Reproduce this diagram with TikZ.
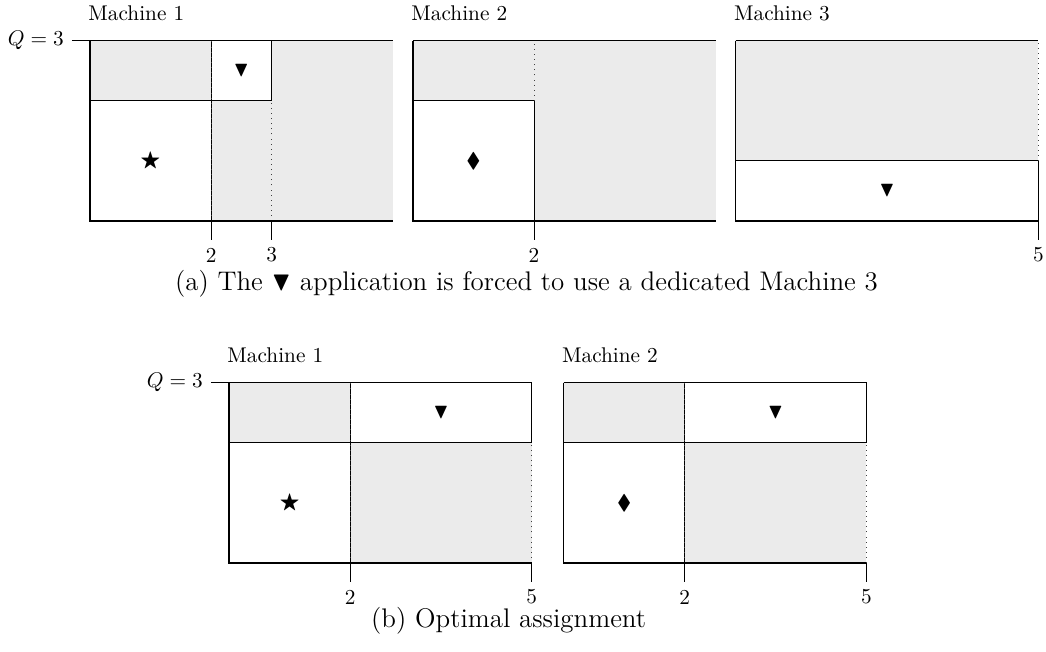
\documentclass[tikz,border=0pt]{standalone}
\usepackage{amssymb}
\begin{document}
\begin{tikzpicture}[x=1cm,y=0.993cm,
  panel/.style={line width=0.6pt},
  boxst/.style={draw=black, fill=white, line width=0.5pt},
  divider/.style={dotted, line width=0.4pt, black!75},
  tickln/.style={line width=0.5pt},
  ticklbl/.style={inner sep=0pt, font=\normalsize},
  qlbl/.style={anchor=east, inner sep=3.6pt, font=\normalsize},
  mlabel/.style={anchor=base west, inner sep=0pt, font=\normalsize},
  caplbl/.style={anchor=base, inner sep=0pt, font=\fontsize{12.65}{15}\selectfont},
  sym/.style={inner sep=0pt}
]
\definecolor{fillgray}{gray}{0.92}
\useasboundingbox (-1.4864,-7.155) rectangle (15.789,3.677);

% ---------------- (a) Machine 1
\begin{scope}[shift={(0,0)}]
  \fill[fillgray] (0,0) rectangle (5,3);
  \draw[boxst] (0,0) rectangle (2,2);
  \draw[boxst] (2,2) rectangle (3,3);
  \draw[divider] (2,0) -- (2,3);
  \draw[divider] (3,0) -- (3,2);
  \draw[panel] (-0.3,3) -- (5,3);
  \draw[panel] (0,3) -- (0,0) -- (5,0);
  \draw[tickln] (2,0) -- (2,-0.316);
  \draw[tickln] (3,0) -- (3,-0.316);
  \node[ticklbl] (a1t2) at (2,-0.566) {2};
  \node[ticklbl] (a1t3) at (3,-0.566) {3};
  \node[qlbl] (a1q) at (-0.3,3) {$Q=3$};
  \node[mlabel] (a1m) at (-0.033,3.338) {Machine 1};
  \node[sym] (a1star) at (1,1) {$\bigstar$};
  \node[sym] (a1tri) at (2.5,2.5) {$\blacktriangledown$};
\end{scope}

% ---------------- (a) Machine 2
\begin{scope}[shift={(5.334,0)}]
  \fill[fillgray] (0,0) rectangle (5,3);
  \draw[boxst] (0,0) rectangle (2,2);
  \draw[divider] (2,2) -- (2,3);
  \draw[panel] (0,3) -- (5,3);
  \draw[panel] (0,3) -- (0,0) -- (5,0);
  \draw[tickln] (2,0) -- (2,-0.316);
  \node[ticklbl] (a2t2) at (2,-0.566) {2};
  \node[mlabel] (a2m) at (-0.033,3.338) {Machine 2};
  \node[sym] (a2dia) at (1,1) {$\blacklozenge$};
\end{scope}

% ---------------- (a) Machine 3
\begin{scope}[shift={(10.664,0)}]
  \fill[fillgray] (0,0) rectangle (5,3);
  \draw[boxst] (0,0) rectangle (5,1);
  \draw[divider] (5,1) -- (5,3);
  \draw[panel] (0,3) -- (5,3);
  \draw[panel] (0,3) -- (0,0) -- (5,0);
  \draw[tickln] (5,0) -- (5,-0.316);
  \node[ticklbl] (a3t5) at (5,-0.566) {5};
  \node[mlabel] (a3m) at (-0.033,3.338) {Machine 3};
  \node[sym] (a3tri) at (2.5,0.5) {$\blacktriangledown$};
\end{scope}

\node[caplbl] (capa) at (7.209,-1.16) {(a) The $\blacktriangledown$ application is forced to use a dedicated Machine 3};

% ---------------- (b) Machine 1
\begin{scope}[shift={(2.296,-5.686)}]
  \fill[fillgray] (0,0) rectangle (5,3);
  \draw[boxst] (0,0) rectangle (2,2);
  \draw[boxst] (2,2) rectangle (5,3);
  \draw[divider] (2,0) -- (2,3);
  \draw[divider] (5,0) -- (5,2);
  \draw[panel] (-0.3,3) -- (5,3);
  \draw[panel] (0,3) -- (0,0) -- (5,0);
  \draw[tickln] (2,0) -- (2,-0.316);
  \draw[tickln] (5,0) -- (5,-0.316);
  \node[ticklbl] (b1t2) at (2,-0.566) {2};
  \node[ticklbl] (b1t5) at (5,-0.566) {5};
  \node[qlbl] (b1q) at (-0.3,3) {$Q=3$};
  \node[mlabel] (b1m) at (-0.033,3.338) {Machine 1};
  \node[sym] (b1star) at (1,1) {$\bigstar$};
  \node[sym] (b1tri) at (3.5,2.5) {$\blacktriangledown$};
\end{scope}

% ---------------- (b) Machine 2
\begin{scope}[shift={(7.823,-5.686)}]
  \fill[fillgray] (0,0) rectangle (5,3);
  \draw[boxst] (0,0) rectangle (2,2);
  \draw[boxst] (2,2) rectangle (5,3);
  \draw[divider] (2,0) -- (2,3);
  \draw[divider] (5,0) -- (5,2);
  \draw[panel] (0,3) -- (5,3);
  \draw[panel] (0,3) -- (0,0) -- (5,0);
  \draw[tickln] (2,0) -- (2,-0.316);
  \draw[tickln] (5,0) -- (5,-0.316);
  \node[ticklbl] (b2t2) at (2,-0.566) {2};
  \node[ticklbl] (b2t5) at (5,-0.566) {5};
  \node[mlabel] (b2m) at (-0.033,3.338) {Machine 2};
  \node[sym] (b2dia) at (1,1) {$\blacklozenge$};
  \node[sym] (b2tri) at (3.5,2.5) {$\blacktriangledown$};
\end{scope}

\node[caplbl] (capb) at (6.915,-6.755) {(b) Optimal assignment};

\end{tikzpicture}
\end{document}
